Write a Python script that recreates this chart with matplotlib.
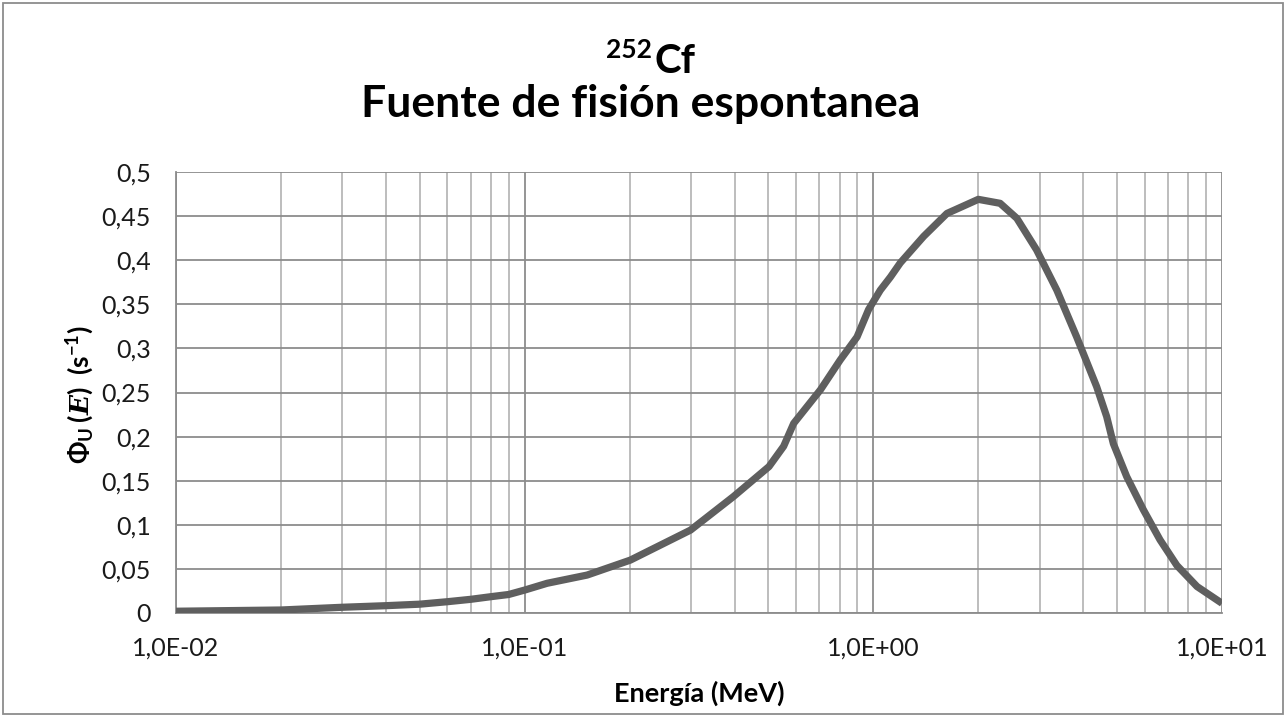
import matplotlib.pyplot as plt
from matplotlib.patches import Rectangle
from matplotlib.ticker import FixedLocator, FuncFormatter, LogLocator, NullFormatter
import numpy as np

# energy (MeV) and flux
energia = [0.01, 0.02, 0.03, 0.04, 0.05, 0.06, 0.07, 0.08, 0.09, 0.1, 0.116,
           0.151, 0.201, 0.299, 0.397, 0.502, 0.553, 0.591, 0.705, 0.804, 0.898,
           0.969, 1.047, 1.12, 1.195, 1.394, 1.626, 2.0, 2.31, 2.58, 2.94, 3.36,
           3.83, 4.37, 4.67, 4.88, 5.33, 5.95, 6.64, 7.42, 8.48, 10.0]
flujo = [0.002, 0.0034, 0.0065, 0.0083, 0.010, 0.0128, 0.0155, 0.0185, 0.021,
         0.026, 0.0337, 0.043, 0.060, 0.094, 0.132, 0.166, 0.189, 0.215, 0.253,
         0.287, 0.313, 0.344, 0.366, 0.381, 0.397, 0.427, 0.453, 0.469, 0.4645,
         0.4475, 0.4116, 0.366, 0.313, 0.2566, 0.2226, 0.192, 0.1546, 0.117,
         0.083, 0.054, 0.030, 0.011]
yticks = [0, 0.05, 0.1, 0.15, 0.2, 0.25, 0.3, 0.35, 0.4, 0.45, 0.5]

plt.rcParams['font.family'] = ['Lato', 'DejaVu Sans']
plt.rcParams['mathtext.fontset'] = 'custom'
plt.rcParams['mathtext.rm'] = 'Lato:bold'
plt.rcParams['mathtext.bf'] = 'Lato:bold'
plt.rcParams['mathtext.it'] = 'DejaVu Serif:italic:bold'

W, H = 1286, 717
fig = plt.figure(figsize=(W / 100, H / 100), dpi=100)
ax = fig.add_axes([176 / W, 1 - 613 / H, (1222 - 176) / W, (613 - 172) / H])

ax.plot(energia, flujo, color='#5f5f5f', lw=5.2, solid_capstyle='butt',
        solid_joinstyle='round', zorder=3)

ax.set_xscale('log')
ax.set_xlim(0.01, 10)
ax.set_ylim(0, 0.5)

ax.xaxis.set_major_locator(FixedLocator([0.01, 0.1, 1, 10]))
ax.xaxis.set_minor_locator(LogLocator(base=10, subs=np.arange(2, 10)))
ax.xaxis.set_minor_formatter(NullFormatter())
ax.xaxis.set_major_formatter(FuncFormatter(
    lambda v, p: '1,0E' + ('+' if v >= 1 else '-') + '%02d' % abs(int(round(np.log10(v))))))
ax.set_yticks(yticks)
ax.yaxis.set_major_formatter(FuncFormatter(lambda v, p: ('%g' % v).replace('.', ',')))

ax.grid(which='major', color='#8c8c8c', lw=1.3)
ax.grid(which='minor', axis='x', color='#b8b8b8', lw=1.3)
ax.tick_params(which='both', length=0, labelsize=18, colors='#1a1a1a')
ax.tick_params(axis='x', pad=17)
ax.tick_params(axis='y', pad=18)
for s in ['top', 'right']:
    ax.spines[s].set_visible(False)
for s in ['left', 'bottom']:
    ax.spines[s].set_color('#8c8c8c')
    ax.spines[s].set_linewidth(1.3)

ax.set_xlabel('Energía (MeV)', fontsize=19.5, fontweight='bold', va='center')
ax.xaxis.set_label_coords(0.5, -(693 - 613) / 441)
ax.set_ylabel(r'$\mathit{\Phi}_{\mathrm{U}}\,(\mathit{E})$  (s$^{\mathrm{-1}}$)',
              fontsize=19, fontweight='bold', va='center')
ax.yaxis.set_label_coords((80 - 176) / 1046, (613 - 395) / 441)

# two-line title: superscript mass number drawn as its own text
fig.text(654 / W, 1 - 73 / H, 'Cf', ha='left', va='baseline',
         fontsize=29, fontweight='bold')
fig.text(652 / W, 1 - 58 / H, '252', ha='right', va='baseline',
         fontsize=19, fontweight='bold')
fig.text(641 / W, 1 - 117 / H, 'Fuente de fisión espontanea', ha='center',
         va='baseline', fontsize=32, fontweight='bold')

fig.patches.append(Rectangle((3 / W, 3 / H), 1 - 6 / W, 1 - 6 / H,
                             transform=fig.transFigure, fill=False,
                             edgecolor='#8c8c8c', lw=1.3))

fig.savefig('out.png', dpi=100)
